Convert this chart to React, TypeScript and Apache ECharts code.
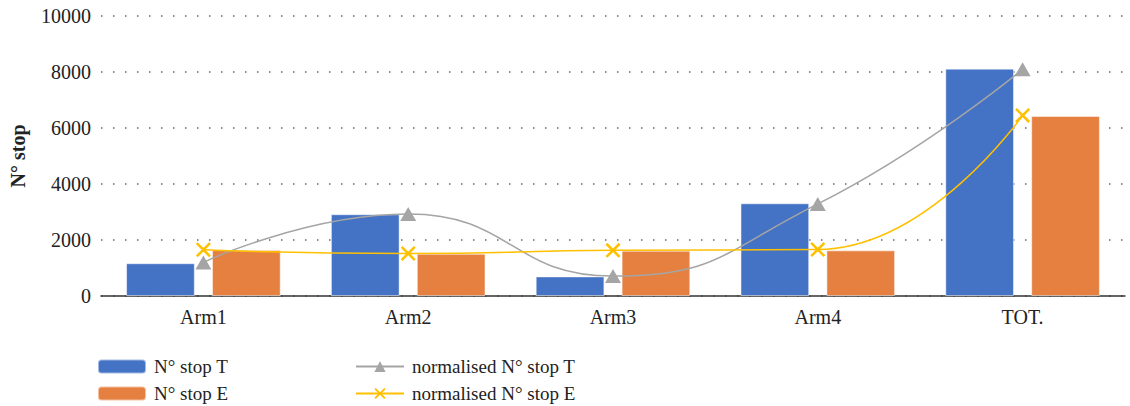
import React, { useEffect, useRef } from "react";
import * as echarts from "echarts";

const categories = ["Arm1", "Arm2", "Arm3", "Arm4", "TOT."];
const stopT = [1170, 2920, 700, 3310, 8120];
const stopE = [1640, 1510, 1620, 1630, 6430];
const normT = [1200, 2930, 710, 3290, 8100];
const normE = [1650, 1520, 1630, 1660, 6450];
const yTicks = [0, 10000, 2000];

const serif = "'Liberation Serif', 'DejaVu Serif', serif";
const crossPath =
  "path://M0,1.2 L1.2,0 L10,8.8 L8.8,10 Z M8.8,0 L10,1.2 L1.2,10 L0,8.8 Z";

const legendItem = (name: string, left: number, top: number) => ({
  data: [name],
  left,
  top,
  itemWidth: 48,
  itemHeight: 14,
  padding: 0,
  textStyle: { fontFamily: serif, fontSize: 19, color: "#222", padding: [0, 0, 0, 3] },
});

export default function App() {
  const ref = useRef<HTMLDivElement>(null);
  useEffect(() => {
    if (!ref.current) return;
    const chart = echarts.init(ref.current, undefined, { renderer: "svg" });
    chart.setOption({
      animation: false,
      grid: { left: 98, right: 5, top: 16, bottom: 110 },
      legend: [
        legendItem("N° stop T", 97, 357),
        legendItem("N° stop E", 97, 384),
        legendItem("normalised N° stop T", 355, 357),
        legendItem("normalised N° stop E", 355, 384),
      ],
      xAxis: {
        type: "category",
        data: categories,
        axisLine: { lineStyle: { color: "#333", width: 1.5 } },
        axisTick: { show: false },
        axisLabel: { fontFamily: serif, fontSize: 20, color: "#222", margin: 11 },
      },
      yAxis: {
        type: "value",
        min: yTicks[0],
        max: yTicks[1],
        interval: yTicks[2],
        name: "N° stop",
        nameLocation: "middle",
        nameRotate: 90,
        nameGap: 73,
        nameTextStyle: { fontFamily: serif, fontSize: 20, fontWeight: "bold", color: "#222" },
        axisLine: { show: false },
        axisTick: { show: false },
        axisLabel: {
          fontFamily: serif,
          fontSize: 20,
          color: "#222",
          margin: 10,
          formatter: (v: number) => String(v),
        },
        splitLine: {
          lineStyle: { color: "#666", width: 1.5, type: [1.5, 10.5] },
        },
      },
      series: [
        {
          name: "N° stop T",
          type: "bar",
          data: stopT,
          barGap: "25%",
          barCategoryGap: "24.5%",
          itemStyle: { color: "#4472C4", borderColor: "rgba(255,255,255,0.5)", borderWidth: 1 },
        },
        {
          name: "N° stop E",
          type: "bar",
          data: stopE,
          itemStyle: { color: "#E58040", borderColor: "rgba(255,255,255,0.5)", borderWidth: 1 },
        },
        {
          name: "normalised N° stop T",
          type: "line",
          data: normT,
          smooth: 0.5,
          symbol: "triangle",
          symbolSize: [16, 14],
          z: 5,
          lineStyle: { color: "#A5A5A5", width: 1.5 },
          itemStyle: { color: "#A5A5A5" },
        },
        {
          name: "normalised N° stop E",
          type: "line",
          data: normE,
          smooth: 0.5,
          symbol: crossPath,
          symbolSize: 15,
          z: 6,
          lineStyle: { color: "#FFC000", width: 1.5 },
          itemStyle: { color: "#FFC000" },
        },
      ],
    });
    return () => chart.dispose();
  }, []);
  return (
    <div
      ref={ref}
      style={{ position: "fixed", left: 0, top: 0, width: 1130, height: 406, background: "#fff" }}
    />
  );
}
